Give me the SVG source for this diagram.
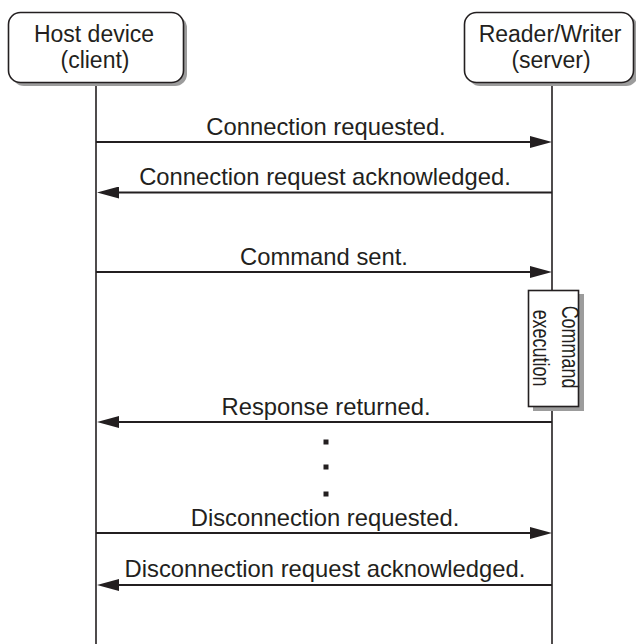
<svg xmlns="http://www.w3.org/2000/svg" width="636" height="644" viewBox="0 0 636 644">
  <style>
    .lbl { font-family: "Liberation Sans", Arial, sans-serif; font-size: 23px; fill: #231f20; text-anchor: middle; }
    .msgtxt { font-size: 23.8px; }
    .box { fill: #ffffff; stroke: #231f20; stroke-width: 1.6; }
    .shadow { fill: #9c9c9c; stroke: none; }
    .life { stroke: #231f20; stroke-width: 1.6; fill: none; }
    .msg { stroke: #231f20; stroke-width: 2; fill: none; marker-end: url(#arrow); }
    .dot { fill: #231f20; }
  </style>
  <defs>
    <marker id="arrow" markerUnits="userSpaceOnUse" markerWidth="22" markerHeight="12" refX="12" refY="6" orient="auto">
      <path d="M0,0 L22,6 L0,12 z" fill="#231f20"/>
    </marker>
  </defs>
  <rect width="636" height="644" fill="#ffffff"/>

  <g id="lifelines">
    <line class="life" x1="96" y1="82" x2="96" y2="644"/>
    <line class="life" x1="552" y1="82" x2="552" y2="644"/>
  </g>

  <g id="host">
    <rect class="shadow" x="12" y="16" width="175" height="70" rx="12"/>
    <rect class="box" x="8.5" y="12.5" width="175" height="70" rx="12"/>
    <text class="lbl" x="94" y="42">Host device</text>
    <text class="lbl" x="95" y="68">(client)</text>
  </g>

  <g id="reader">
    <rect class="shadow" x="468" y="16" width="170" height="70" rx="12"/>
    <rect class="box" x="464.5" y="12.5" width="169" height="70" rx="12"/>
    <text class="lbl" x="550" y="42">Reader/Writer</text>
    <text class="lbl" x="551" y="68">(server)</text>
  </g>

  <g id="exec">
    <rect class="shadow" x="533" y="294" width="51" height="117"/>
    <rect class="box" x="528.5" y="290.5" width="50" height="116"/>
    <text class="lbl" transform="translate(562,347) rotate(90) scale(0.78,1)" font-size="22">Command</text>
    <text class="lbl" transform="translate(533,348) rotate(90) scale(0.78,1)" font-size="22">execution</text>
  </g>

  <g id="connectors">
    <line class="msg" x1="96" y1="142" x2="542" y2="142"/>
    <line class="msg" x1="552" y1="192.5" x2="107" y2="192.5"/>
    <line class="msg" x1="96" y1="272" x2="542" y2="272"/>
    <line class="msg" x1="552" y1="422" x2="107" y2="422"/>
    <line class="msg" x1="96" y1="533" x2="542" y2="533"/>
    <line class="msg" x1="552" y1="585" x2="107" y2="585"/>
  </g>

  <g id="labels">
    <text class="lbl msgtxt" x="326" y="135">Connection requested.</text>
    <text class="lbl msgtxt" x="325" y="185">Connection request acknowledged.</text>
    <text class="lbl msgtxt" x="324" y="265">Command sent.</text>
    <text class="lbl msgtxt" x="326" y="415">Response returned.</text>
    <text class="lbl msgtxt" x="325" y="526">Disconnection requested.</text>
    <text class="lbl msgtxt" x="325" y="577">Disconnection request acknowledged.</text>
  </g>

  <g id="ellipsis">
    <rect class="dot" x="323.5" y="439.5" width="5" height="5"/>
    <rect class="dot" x="323.5" y="464.5" width="5" height="5"/>
    <rect class="dot" x="323.5" y="491.5" width="5" height="5"/>
  </g>
</svg>
